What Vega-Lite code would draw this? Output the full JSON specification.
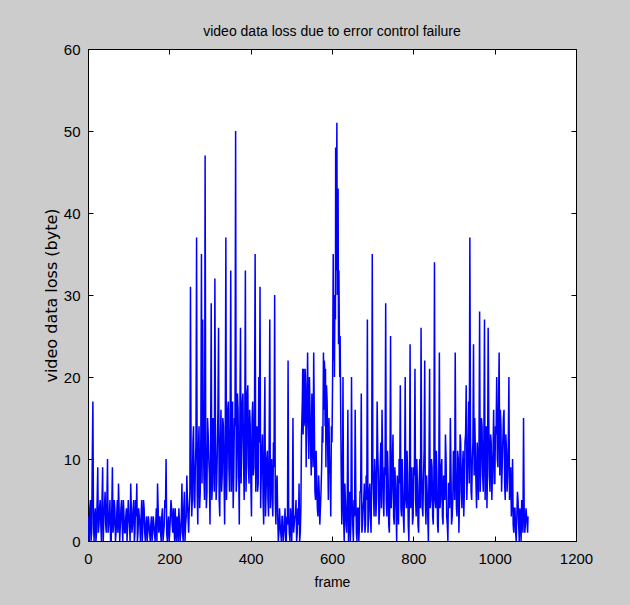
{
"$schema":"https://vega.github.io/schema/vega-lite/v6.json",
"width":488,"height":492,"autosize":"none",
"padding":{"left":88,"top":49,"right":54,"bottom":64},
"background":"#cccccc",
"config":{"view":{"fill":"white","stroke":"black","strokeWidth":1},
"axis":{"grid":false,"domainColor":"black","tickColor":"black","labelColor":"black","titleColor":"black","labelFont":"Liberation Sans, sans-serif","labelFontSize":15,"titleFont":"Liberation Sans, sans-serif","titleFontWeight":"normal","tickSize":-5,"labelFlush":false,"labelOverlap":false}},
"title":{"text":"video data loss due to error control failure","font":"Liberation Sans, sans-serif","fontSize":14,"fontWeight":"normal","color":"black","offset":3,"anchor":"middle"},
"data":{"values":[
{"f":0,"v":3},{"f":3,"v":0},{"f":6,"v":5},{"f":9,"v":1},{"f":12,"v":17},{"f":15,"v":0},{"f":18,"v":4},{"f":21,"v":1},{"f":24,"v":9},{"f":27,"v":2},{"f":30,"v":5},{"f":33,"v":0},{"f":36,"v":9},{"f":39,"v":3},{"f":42,"v":6},{"f":45,"v":1},{"f":48,"v":10},{"f":51,"v":2},{"f":54,"v":5},{"f":57,"v":0},{"f":60,"v":9},{"f":63,"v":2},{"f":66,"v":4},{"f":69,"v":1},{"f":72,"v":5},{"f":75,"v":7},{"f":78,"v":0},{"f":81,"v":4},{"f":84,"v":2},{"f":87,"v":5},{"f":90,"v":1},{"f":93,"v":3},{"f":96,"v":0},{"f":99,"v":5},{"f":102,"v":2},{"f":105,"v":7},{"f":108,"v":1},{"f":111,"v":4},{"f":114,"v":0},{"f":117,"v":5},{"f":120,"v":7},{"f":123,"v":1},{"f":126,"v":3},{"f":129,"v":0},{"f":132,"v":5},{"f":135,"v":2},{"f":138,"v":4},{"f":141,"v":0},{"f":144,"v":3},{"f":147,"v":1},{"f":150,"v":2},{"f":153,"v":0},{"f":156,"v":3},{"f":159,"v":1},{"f":162,"v":2},{"f":165,"v":0},{"f":168,"v":4},{"f":171,"v":7},{"f":174,"v":1},{"f":177,"v":3},{"f":180,"v":0},{"f":183,"v":4},{"f":186,"v":1},{"f":189,"v":5},{"f":192,"v":10},{"f":195,"v":0},{"f":198,"v":3},{"f":201,"v":1},{"f":204,"v":5},{"f":207,"v":2},{"f":210,"v":4},{"f":213,"v":0},{"f":216,"v":1},{"f":219,"v":3},{"f":222,"v":0},{"f":225,"v":2},{"f":228,"v":1},{"f":231,"v":7},{"f":234,"v":0},{"f":237,"v":6},{"f":240,"v":2},{"f":243,"v":8},{"f":246,"v":3},{"f":249,"v":4},
{"f":252,"v":31},{"f":255,"v":3},{"f":258,"v":12},{"f":261,"v":5},{"f":264,"v":9},{"f":267,"v":37},{"f":270,"v":2},{"f":273,"v":14},{"f":276,"v":6},{"f":279,"v":35},{"f":282,"v":27},{"f":285,"v":8},{"f":288,"v":47},{"f":291,"v":4},{"f":294,"v":15},{"f":297,"v":10},{"f":300,"v":2},
{"f":303,"v":29},{"f":306,"v":7},{"f":309,"v":13},{"f":312,"v":32},{"f":315,"v":5},{"f":318,"v":11},{"f":321,"v":26},{"f":324,"v":3},{"f":327,"v":16},{"f":330,"v":8},{"f":333,"v":14},{"f":336,"v":2},{"f":339,"v":37},{"f":342,"v":9},{"f":345,"v":17},{"f":348,"v":6},{"f":351,"v":33},{"f":354,"v":11},{"f":357,"v":4},{"f":360,"v":15},
{"f":363,"v":50},{"f":366,"v":8},{"f":369,"v":16},{"f":372,"v":2},{"f":375,"v":26},{"f":378,"v":12},{"f":381,"v":18},{"f":384,"v":5},{"f":387,"v":33},{"f":390,"v":10},{"f":393,"v":19},{"f":396,"v":7},{"f":399,"v":14},{"f":402,"v":3},{"f":405,"v":17},{"f":408,"v":9},{"f":411,"v":35},{"f":414,"v":12},{"f":417,"v":6},{"f":420,"v":20},
{"f":423,"v":31},{"f":426,"v":8},{"f":429,"v":13},{"f":432,"v":2},{"f":435,"v":20},{"f":438,"v":6},{"f":441,"v":11},{"f":444,"v":3},{"f":447,"v":27},{"f":450,"v":9},{"f":453,"v":5},{"f":456,"v":12},{"f":459,"v":30},{"f":462,"v":2},{"f":465,"v":8},{"f":468,"v":0},{"f":471,"v":4},{"f":474,"v":1},{"f":477,"v":3},{"f":480,"v":0},
{"f":483,"v":2},{"f":486,"v":0},{"f":489,"v":3},{"f":492,"v":22},{"f":495,"v":1},{"f":498,"v":4},{"f":501,"v":0},{"f":504,"v":15},{"f":507,"v":2},{"f":510,"v":3},{"f":513,"v":0},{"f":516,"v":4},{"f":519,"v":7},{"f":522,"v":1},{"f":525,"v":13},{"f":527,"v":17},{"f":528,"v":21},{"f":529,"v":13},{"f":530,"v":21},{"f":531,"v":14},{"f":533,"v":15},{"f":534,"v":21},{"f":535,"v":19},{"f":537,"v":12},{"f":540,"v":23},
{"f":543,"v":10},{"f":546,"v":16},{"f":549,"v":8},{"f":552,"v":13},{"f":555,"v":23},{"f":558,"v":6},{"f":561,"v":11},{"f":564,"v":4},{"f":567,"v":8},{"f":570,"v":2},{"f":573,"v":6},{"f":576,"v":14},{"f":579,"v":23},{"f":580,"v":16},{"f":581,"v":22},{"f":582,"v":21},{"f":583,"v":14},{"f":584,"v":21},{"f":585,"v":9},{"f":588,"v":17},{"f":591,"v":5},{"f":594,"v":10},{"f":597,"v":3},{"f":600,"v":12},
{"f":603,"v":35},{"f":604,"v":22},{"f":606,"v":20},{"f":607,"v":29},{"f":609,"v":48},{"f":610,"v":33},{"f":611,"v":42},{"f":612,"v":51},{"f":613,"v":30},{"f":614,"v":40},{"f":615,"v":43},{"f":616,"v":24},{"f":617,"v":33},{"f":618,"v":26},{"f":619,"v":20},{"f":621,"v":18},{"f":624,"v":2},{"f":627,"v":20},{"f":630,"v":0},{"f":633,"v":5},{"f":636,"v":1},{"f":639,"v":16},{"f":642,"v":3},{"f":645,"v":0},{"f":648,"v":20},{"f":651,"v":2},{"f":654,"v":5},{"f":657,"v":16},{"f":660,"v":1},
{"f":663,"v":4},{"f":666,"v":0},{"f":669,"v":6},{"f":672,"v":18},{"f":675,"v":2},{"f":678,"v":5},{"f":681,"v":1},{"f":684,"v":8},{"f":687,"v":27},{"f":690,"v":3},{"f":693,"v":7},{"f":696,"v":1},{"f":699,"v":35},{"f":702,"v":6},{"f":705,"v":10},{"f":708,"v":3},{"f":711,"v":17},{"f":714,"v":8},{"f":717,"v":4},{"f":720,"v":12},
{"f":723,"v":16},{"f":726,"v":5},{"f":729,"v":9},{"f":732,"v":29},{"f":735,"v":3},{"f":738,"v":8},{"f":741,"v":1},{"f":744,"v":25},{"f":747,"v":6},{"f":750,"v":13},{"f":753,"v":2},{"f":756,"v":7},{"f":759,"v":0},{"f":762,"v":5},{"f":765,"v":10},{"f":768,"v":19},{"f":771,"v":3},{"f":774,"v":6},{"f":777,"v":1},{"f":780,"v":20},
{"f":783,"v":4},{"f":786,"v":8},{"f":789,"v":0},{"f":792,"v":24},{"f":795,"v":6},{"f":798,"v":2},{"f":801,"v":9},{"f":804,"v":21},{"f":807,"v":3},{"f":810,"v":7},{"f":813,"v":1},{"f":816,"v":10},{"f":819,"v":26},{"f":822,"v":4},{"f":825,"v":8},{"f":828,"v":22},{"f":831,"v":2},{"f":834,"v":6},{"f":837,"v":0},{"f":840,"v":21},
{"f":843,"v":5},{"f":846,"v":9},{"f":849,"v":2},{"f":852,"v":34},{"f":855,"v":4},{"f":858,"v":8},{"f":861,"v":1},{"f":864,"v":23},{"f":867,"v":5},{"f":870,"v":10},{"f":873,"v":2},{"f":876,"v":6},{"f":879,"v":13},{"f":882,"v":3},{"f":885,"v":0},{"f":888,"v":7},{"f":891,"v":15},{"f":894,"v":2},{"f":897,"v":5},{"f":900,"v":9},
{"f":903,"v":23},{"f":906,"v":4},{"f":909,"v":11},{"f":912,"v":1},{"f":915,"v":13},{"f":918,"v":6},{"f":921,"v":9},{"f":924,"v":3},{"f":927,"v":12},{"f":930,"v":19},{"f":933,"v":8},{"f":936,"v":17},{"f":939,"v":37},{"f":942,"v":6},{"f":945,"v":10},{"f":948,"v":24},{"f":951,"v":15},{"f":954,"v":7},{"f":957,"v":12},{"f":960,"v":5},
{"f":963,"v":28},{"f":966,"v":9},{"f":969,"v":14},{"f":972,"v":6},{"f":975,"v":27},{"f":978,"v":10},{"f":981,"v":4},{"f":984,"v":26},{"f":987,"v":8},{"f":990,"v":13},{"f":993,"v":5},{"f":996,"v":11},{"f":999,"v":7},{"f":1002,"v":14},{"f":1005,"v":20},{"f":1008,"v":9},{"f":1011,"v":23},{"f":1014,"v":16},{"f":1017,"v":6},{"f":1020,"v":12},
{"f":1023,"v":16},{"f":1026,"v":5},{"f":1029,"v":11},{"f":1032,"v":8},{"f":1035,"v":20},{"f":1038,"v":8},{"f":1041,"v":3},{"f":1044,"v":10},{"f":1047,"v":1},{"f":1050,"v":4},{"f":1053,"v":0},{"f":1056,"v":6},{"f":1059,"v":2},{"f":1062,"v":4},{"f":1065,"v":0},{"f":1068,"v":3},{"f":1071,"v":15},{"f":1074,"v":1},{"f":1077,"v":4},{"f":1080,"v":2},{"f":1082,"v":3},
{"f":1.5,"v":1},{"f":4.5,"v":4},{"f":7.5,"v":0},{"f":10.5,"v":10},{"f":13.5,"v":2},{"f":16.5,"v":3},{"f":19.5,"v":0},{"f":22.5,"v":5},{"f":25.5,"v":1},{"f":28.5,"v":4},{"f":31.5,"v":2},{"f":34.5,"v":5},{"f":37.5,"v":0},{"f":40.5,"v":4},{"f":43.5,"v":2},{"f":46.5,"v":5},{"f":49.5,"v":1},{"f":52.5,"v":3},{"f":55.5,"v":0},{"f":58.5,"v":4},{"f":61.5,"v":1},{"f":64.5,"v":5},{"f":67.5,"v":0},{"f":70.5,"v":3},{"f":73.5,"v":1},{"f":76.5,"v":4},{"f":79.5,"v":2},{"f":82.5,"v":5},{"f":85.5,"v":0},{"f":88.5,"v":3},{"f":91.5,"v":1},{"f":94.5,"v":4},{"f":97.5,"v":2},{"f":100.5,"v":3},{"f":103.5,"v":0},{"f":106.5,"v":4},{"f":109.5,"v":2},{"f":112.5,"v":5},{"f":115.5,"v":1},{"f":118.5,"v":3},{"f":121.5,"v":0},{"f":124.5,"v":4},{"f":127.5,"v":2},{"f":130.5,"v":3},{"f":133.5,"v":0},{"f":136.5,"v":5},{"f":139.5,"v":1},{"f":142.5,"v":2},{"f":145.5,"v":0},{"f":148.5,"v":3},{"f":151.5,"v":1},{"f":154.5,"v":2},{"f":157.5,"v":0},{"f":160.5,"v":3},{"f":163.5,"v":1},{"f":166.5,"v":2},{"f":169.5,"v":0},{"f":172.5,"v":4},{"f":175.5,"v":2},{"f":178.5,"v":1},{"f":181.5,"v":3},{"f":184.5,"v":0},{"f":187.5,"v":2},{"f":190.5,"v":4},{"f":193.5,"v":1},{"f":196.5,"v":2},{"f":199.5,"v":0},{"f":202.5,"v":3},{"f":205.5,"v":4},{"f":208.5,"v":1},{"f":211.5,"v":2},{"f":214.5,"v":4},{"f":217.5,"v":0},{"f":220.5,"v":2},{"f":223.5,"v":4},{"f":226.5,"v":0},{"f":229.5,"v":3},{"f":232.5,"v":1},{"f":235.5,"v":4},{"f":238.5,"v":0},{"f":241.5,"v":3},{"f":244.5,"v":5},{"f":247.5,"v":1},{"f":250.5,"v":6},
{"f":253.5,"v":10},{"f":256.5,"v":5},{"f":259.5,"v":14},{"f":262.5,"v":4},{"f":265.5,"v":12},{"f":268.5,"v":6},{"f":271.5,"v":11},{"f":274.5,"v":4},{"f":277.5,"v":13},{"f":280.5,"v":7},{"f":283.5,"v":14},{"f":286.5,"v":5},{"f":289.5,"v":12},{"f":292.5,"v":6},{"f":295.5,"v":13},{"f":298.5,"v":8},
{"f":301.5,"v":12},{"f":304.5,"v":5},{"f":307.5,"v":15},{"f":310.5,"v":6},{"f":313.5,"v":13},{"f":316.5,"v":7},{"f":319.5,"v":16},{"f":322.5,"v":5},{"f":325.5,"v":12},{"f":328.5,"v":6},{"f":331.5,"v":15},{"f":334.5,"v":8},{"f":337.5,"v":13},{"f":340.5,"v":5},{"f":343.5,"v":16},{"f":346.5,"v":9},{"f":349.5,"v":14},{"f":352.5,"v":6},{"f":355.5,"v":17},{"f":358.5,"v":8},
{"f":361.5,"v":14},{"f":364.5,"v":6},{"f":367.5,"v":18},{"f":370.5,"v":9},{"f":373.5,"v":15},{"f":376.5,"v":7},{"f":379.5,"v":17},{"f":382.5,"v":10},{"f":385.5,"v":14},{"f":388.5,"v":6},{"f":391.5,"v":18},{"f":394.5,"v":9},{"f":397.5,"v":16},{"f":400.5,"v":7},{"f":403.5,"v":15},{"f":406.5,"v":8},{"f":409.5,"v":17},{"f":412.5,"v":6},{"f":415.5,"v":14},{"f":418.5,"v":7},
{"f":421.5,"v":12},{"f":424.5,"v":4},{"f":427.5,"v":11},{"f":430.5,"v":5},{"f":433.5,"v":13},{"f":436.5,"v":3},{"f":439.5,"v":10},{"f":442.5,"v":5},{"f":445.5,"v":12},{"f":448.5,"v":4},{"f":451.5,"v":10},{"f":454.5,"v":3},{"f":457.5,"v":9},{"f":460.5,"v":5},{"f":463.5,"v":7},
{"f":466.5,"v":3},{"f":469.5,"v":1},{"f":472.5,"v":2},{"f":475.5,"v":0},{"f":478.5,"v":3},{"f":481.5,"v":1},{"f":484.5,"v":4},{"f":487.5,"v":0},{"f":490.5,"v":2},{"f":493.5,"v":3},{"f":496.5,"v":0},{"f":499.5,"v":2},{"f":502.5,"v":4},{"f":505.5,"v":1},{"f":508.5,"v":3},{"f":511.5,"v":5},{"f":514.5,"v":1},{"f":517.5,"v":2},{"f":520.5,"v":0},{"f":523.5,"v":4},
{"f":536.5,"v":9},{"f":538.5,"v":17},{"f":541.5,"v":14},{"f":544.5,"v":20},{"f":547.5,"v":11},{"f":550.5,"v":18},{"f":553.5,"v":9},{"f":556.5,"v":15},{"f":559.5,"v":5},
{"f":562.5,"v":7},{"f":565.5,"v":3},{"f":568.5,"v":6},{"f":571.5,"v":4},{"f":574.5,"v":9},
{"f":577.5,"v":12},{"f":586.5,"v":19},{"f":589.5,"v":11},{"f":592.5,"v":15},{"f":595.5,"v":8},{"f":598.5,"v":14},
{"f":601.5,"v":20},{"f":605.5,"v":30},{"f":608.5,"v":27},{"f":620,"v":25},{"f":622.5,"v":9},
{"f":625.5,"v":6},{"f":628.5,"v":3},{"f":631.5,"v":7},{"f":634.5,"v":2},{"f":637.5,"v":5},{"f":640.5,"v":0},{"f":643.5,"v":6},{"f":646.5,"v":2},{"f":649.5,"v":5},{"f":652.5,"v":0},{"f":655.5,"v":3},{"f":658.5,"v":6},{"f":661.5,"v":0},{"f":664.5,"v":4},{"f":667.5,"v":2},{"f":670.5,"v":6},{"f":673.5,"v":1},{"f":676.5,"v":4},{"f":679.5,"v":7},{"f":682.5,"v":2},{"f":685.5,"v":5},{"f":688.5,"v":1},{"f":691.5,"v":6},{"f":694.5,"v":3},{"f":697.5,"v":7},
{"f":700.5,"v":9},{"f":703.5,"v":3},{"f":706.5,"v":8},{"f":709.5,"v":5},{"f":712.5,"v":11},{"f":715.5,"v":2},{"f":718.5,"v":9},{"f":721.5,"v":4},{"f":724.5,"v":10},{"f":727.5,"v":3},{"f":730.5,"v":8},{"f":733.5,"v":5},{"f":736.5,"v":11},{"f":739.5,"v":2},{"f":742.5,"v":7},{"f":745.5,"v":4},{"f":748.5,"v":10},{"f":751.5,"v":3},{"f":754.5,"v":9},{"f":757.5,"v":4},{"f":760.5,"v":8},{"f":763.5,"v":2},{"f":766.5,"v":7},{"f":769.5,"v":4},{"f":772.5,"v":10},{"f":775.5,"v":3},{"f":778.5,"v":8},{"f":781.5,"v":5},{"f":784.5,"v":11},{"f":787.5,"v":2},{"f":790.5,"v":7},{"f":793.5,"v":4},{"f":796.5,"v":9},{"f":799.5,"v":3},{"f":802.5,"v":8},{"f":805.5,"v":5},{"f":808.5,"v":10},{"f":811.5,"v":2},{"f":814.5,"v":7},{"f":817.5,"v":4},{"f":820.5,"v":9},{"f":823.5,"v":3},{"f":826.5,"v":11},{"f":829.5,"v":5},{"f":832.5,"v":8},{"f":835.5,"v":3},{"f":838.5,"v":9},{"f":841.5,"v":4},{"f":844.5,"v":10},{"f":847.5,"v":3},{"f":850.5,"v":8},{"f":853.5,"v":5},{"f":856.5,"v":11},{"f":859.5,"v":2},{"f":862.5,"v":7},{"f":865.5,"v":4},{"f":868.5,"v":9},{"f":871.5,"v":3},{"f":874.5,"v":8},{"f":877.5,"v":5},{"f":880.5,"v":10},{"f":883.5,"v":2},{"f":886.5,"v":7},{"f":889.5,"v":4},{"f":892.5,"v":9},{"f":895.5,"v":3},{"f":898.5,"v":11},{"f":901.5,"v":5},{"f":904.5,"v":9},{"f":907.5,"v":3},{"f":910.5,"v":10},{"f":913.5,"v":5},{"f":916.5,"v":12},{"f":919.5,"v":4},{"f":922.5,"v":11},{"f":925.5,"v":6},{"f":928.5,"v":13},{"f":931.5,"v":5},{"f":934.5,"v":12},{"f":937.5,"v":7},{"f":940.5,"v":14},{"f":943.5,"v":5},{"f":946.5,"v":12},{"f":949.5,"v":8},{"f":952.5,"v":11},{"f":955.5,"v":4},{"f":958.5,"v":10},
{"f":961.5,"v":12},{"f":964.5,"v":6},{"f":967.5,"v":15},{"f":970.5,"v":8},{"f":973.5,"v":13},{"f":976.5,"v":5},{"f":979.5,"v":14},{"f":982.5,"v":9},{"f":985.5,"v":15},{"f":988.5,"v":6},{"f":991.5,"v":12},{"f":994.5,"v":8},{"f":997.5,"v":16},{"f":1000.5,"v":7},{"f":1003.5,"v":13},{"f":1006.5,"v":10},{"f":1009.5,"v":17},{"f":1012.5,"v":8},{"f":1015.5,"v":14},{"f":1018.5,"v":9},{"f":1021.5,"v":15},{"f":1024.5,"v":7},{"f":1027.5,"v":13},{"f":1030.5,"v":6},{"f":1033.5,"v":12},{"f":1036.5,"v":5},{"f":1039.5,"v":9},
{"f":1042.5,"v":5},{"f":1045.5,"v":2},{"f":1048.5,"v":4},{"f":1051.5,"v":1},{"f":1054.5,"v":3},{"f":1057.5,"v":5},{"f":1060.5,"v":0},{"f":1063.5,"v":3},{"f":1066.5,"v":5},{"f":1069.5,"v":1},{"f":1072.5,"v":4},{"f":1075.5,"v":2},{"f":1078.5,"v":3},{"f":1081,"v":1}
]},
"layer":[
{"mark":{"type":"line","color":"#0000ff","strokeWidth":1.5,"clip":true},
"encoding":{
"x":{"field":"f","type":"quantitative","scale":{"domain":[0,1200],"nice":false,"zero":false},
"axis":{"orient":"bottom","values":[0,200,400,600,800,1000,1200],"format":"d","labelPadding":15,"title":"frame","titleFontSize":14,"titlePadding":9}},
"y":{"field":"v","type":"quantitative","scale":{"domain":[0,60],"nice":false},
"axis":{"orient":"left","values":[0,10,20,30,40,50,60],"format":"d","labelPadding":13,"title":"video data loss (byte)","titleFont":"DejaVu Sans, sans-serif","titleFontSize":16,"titlePadding":4}}}},
{"mark":{"type":"line","opacity":0},
"encoding":{
"x":{"field":"f","type":"quantitative","scale":{"domain":[0,1200],"nice":false,"zero":false},
"axis":{"orient":"top","values":[0,200,400,600,800,1000,1200],"labels":false,"title":null,"domain":false}},
"y":{"field":"v","type":"quantitative","scale":{"domain":[0,60],"nice":false},
"axis":{"orient":"right","values":[0,10,20,30,40,50,60],"labels":false,"title":null,"domain":false}}}}
],
"resolve":{"axis":{"x":"independent","y":"independent"}}
}
